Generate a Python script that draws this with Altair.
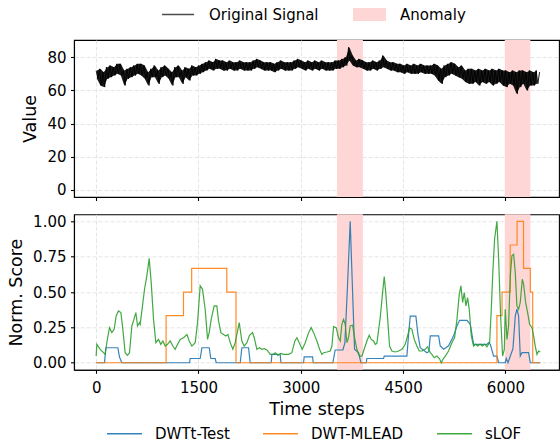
import altair as alt
import pandas as pd

FONT = "DejaVu Sans"

# ---- Original signal: upper envelope at t = 0,50,...,6500 and lower envelope at t = 25,75,...,6475
sig_upper = [72, 73, 71, 74, 75, 74, 76, 76, 72, 73, 74, 75, 76, 76, 75, 71, 73, 75, 72, 74,
             75, 73, 71, 74, 75, 72, 74, 73, 75, 74, 75, 76, 77, 78, 77, 79, 78, 78, 77, 78,
             77, 77, 78, 77, 77, 77, 78, 79, 78, 77, 77, 77, 76, 77, 78, 77, 77, 77, 78, 79,
             78, 77, 78, 77, 78, 77, 78, 77, 77, 77, 78, 78, 79, 80, 86, 81, 78, 79, 78, 77,
             77, 78, 77, 78, 81, 78, 77, 77, 76, 76, 75, 76, 75, 76, 75, 76, 75, 75, 75, 76,
             75, 73, 75, 76, 77, 76, 74, 75, 72, 73, 73, 72, 73, 72, 73, 72, 73, 72, 73, 72,
             72, 71, 72, 71, 72, 72, 71, 72, 71, 72, 71]
sig_lower = [67, 63, 62, 67, 68, 69, 70, 69, 63, 67, 68, 69, 70, 69, 67, 63, 68, 68, 64, 68,
             69, 67, 63, 68, 68, 64, 68, 66, 69, 69, 70, 71, 72, 73, 72, 73, 73, 72, 72, 73,
             72, 72, 73, 72, 72, 72, 73, 74, 73, 72, 72, 72, 71, 72, 73, 72, 72, 72, 73, 74,
             73, 72, 73, 72, 73, 72, 73, 72, 72, 72, 73, 73, 74, 75, 78, 75, 74, 74, 73, 72,
             72, 73, 72, 73, 74, 73, 72, 72, 71, 71, 70, 71, 70, 70, 70, 71, 70, 70, 70, 69,
             66, 64, 68, 69, 70, 69, 68, 67, 65, 64, 64, 65, 63, 65, 64, 65, 63, 64, 65, 63,
             62, 64, 63, 58, 62, 64, 60, 63, 63, 64]

# ---- Anomaly windows
anom_start = [3530, 5990]
anom_end = [3910, 6365]

# ---- DWTt-Test
blue_t = [0, 122, 142, 318, 342, 376, 1369, 1378, 1525, 1550, 1657, 1681, 1745, 1760, 2112, 2136,
          2234, 2258, 2566, 2576, 2698, 2708, 3040, 3050, 3172, 3182, 3470, 3504, 3617, 3646,
          3685, 3724, 3759, 3788, 3847, 3881, 3959, 3969, 4213, 4223, 4555, 4580, 4604, 4687,
          4717, 4751, 4849, 4878, 4898, 5020, 5044, 5093, 5166, 5240, 5289, 5328, 5435, 5484,
          5509, 5533, 5680, 5729, 5753, 5778, 5826, 5875, 5900, 5997, 6012, 6037, 6110, 6144,
          6168, 6193, 6217, 6242, 6339, 6364, 6510]
blue_s = [0, 0, 0.106, 0.106, 0.04, 0, 0, 0.03, 0.03, 0.106, 0.106, 0.03, 0.03, 0, 0, 0.106,
          0.106, 0, 0, 0.059, 0.059, 0, 0, 0.042, 0.042, 0, 0, 0.09, 0.09, 0.14,
          0.55, 1.0, 0.5, 0.095, 0.07, 0, 0, 0.03, 0.03, 0.047, 0.047, 0.2, 0.33, 0.33,
          0.2, 0.106, 0.071, 0.08, 0.19, 0.19, 0.118, 0.095, 0.12, 0.19, 0.26, 0.3, 0.3, 0.272,
          0.2, 0.13, 0.13, 0.13, 0.142, 0.13, 0.047, 0.047, 0, 0, 0.03, 0, 0.1, 0.33,
          0.38, 0.33, 0.047, 0.071, 0.071, 0, 0]

# ---- DWT-MLEAD (step function)
orange_t = [0, 1025, 1280, 1400, 1915, 2050, 5875, 5950, 6070, 6170, 6265, 6365, 6400, 6510]
orange_s = [0, 0.333, 0.5, 0.667, 0.5, 0, 0.333, 0.5, 0.833, 1.0, 0.667, 0.5, 0, 0]

# ---- sLOF
green_t = [0, 10, 59, 108, 132, 156, 195, 230, 264, 293, 327, 362, 391, 425, 459, 489, 523, 547,
           582, 606, 635, 645, 679, 709, 743, 777, 807, 841, 875, 914, 948, 978, 1012, 1046,
           1085, 1124, 1158, 1193, 1232, 1281, 1330, 1364, 1403, 1452, 1486, 1525, 1559, 1598,
           1633, 1657, 1686, 1730, 1769, 1794, 1828, 1867, 1901, 1931, 1965, 2004, 2038, 2063,
           2097, 2136, 2170, 2209, 2248, 2292, 2317, 2356, 2395, 2429, 2464, 2503, 2552, 2591,
           2625, 2664, 2708, 2747, 2781, 2820, 2869, 2913, 2943, 2977, 3021, 3065, 3114, 3153,
           3187, 3236, 3275, 3309, 3334, 3383, 3431, 3456, 3480, 3519, 3553, 3578, 3602, 3627,
           3651, 3676, 3700, 3724, 3759, 3788, 3822, 3847, 3871, 3896, 3920, 3969, 4003, 4032,
           4067, 4091, 4115, 4164, 4199, 4223, 4247, 4277, 4301, 4335, 4384, 4433, 4482, 4531,
           4565, 4594, 4629, 4663, 4702, 4736, 4775, 4824, 4858, 4898, 4922, 4956, 4995, 5034,
           5059, 5083, 5118, 5166, 5215, 5254, 5289, 5323, 5347, 5372, 5396, 5421, 5445, 5469,
           5499, 5533, 5562, 5592, 5631, 5660, 5694, 5729, 5768, 5792, 5817, 5841, 5875, 5900,
           5929, 5958, 5983, 5997, 6022, 6046, 6071, 6095, 6120, 6144, 6168, 6193, 6217, 6247,
           6266, 6296, 6325, 6354, 6389, 6413, 6437, 6462, 6486, 6510]
green_s = [0.047, 0.13, 0.095, 0.071, 0.059, 0.142, 0.248, 0.213, 0.236, 0.331, 0.366, 0.355,
           0.236, 0.071, 0.052, 0.071, 0.26, 0.296, 0.355, 0.26, 0.284, 0.272, 0.402, 0.52,
           0.615, 0.738, 0.567, 0.307, 0.142, 0.165, 0.13, 0.154, 0.118, 0.13, 0.154, 0.118,
           0.095, 0.13, 0.165, 0.177, 0.2, 0.154, 0.118, 0.142, 0.284, 0.544, 0.52, 0.378,
           0.165, 0.213, 0.307, 0.402, 0.402, 0.296, 0.213, 0.2, 0.189, 0.2, 0.142, 0.095,
           0.142, 0.2, 0.284, 0.154, 0.118, 0.142, 0.194, 0.213, 0.177, 0.095, 0.106, 0.095,
           0.099, 0.09, 0.059, 0.059, 0.071, 0.052, 0.066, 0.059, 0.059, 0.059, 0.071, 0.154,
           0.177, 0.142, 0.095, 0.142, 0.213, 0.248, 0.213, 0.154, 0.095, 0.059, 0.071, 0.076,
           0.083, 0.118, 0.255, 0.248, 0.177, 0.154, 0.272, 0.307, 0.272, 0.142, 0.177, 0.26,
           0.265, 0.177, 0.095, 0.059, 0.047, 0.047, 0.083, 0.154, 0.194, 0.165, 0.154, 0.13,
           0.137, 0.319, 0.496, 0.61, 0.485, 0.284, 0.118, 0.083, 0.076, 0.083, 0.095, 0.13,
           0.189, 0.248, 0.236, 0.165, 0.118, 0.083, 0.083, 0.095, 0.113, 0.071, 0.059, 0.035,
           0.047, 0.028, 0.0, 0.024, 0.047, 0.083, 0.142, 0.177, 0.307, 0.485, 0.544, 0.426,
           0.496, 0.402, 0.461, 0.378, 0.189, 0.118, 0.13, 0.118, 0.13, 0.118, 0.13, 0.113,
           0.142, 0.378, 0.662, 0.875, 1.0, 0.733, 0.331, 0.047, 0.095, 0.378, 0.165, 0.26,
           0.615, 0.757, 0.768, 0.638, 0.402, 0.378, 0.426, 0.591, 0.556, 0.426, 0.355, 0.272,
           0.248, 0.189, 0.118, 0.059, 0.083, 0.076]

x_ticks = [0, 1500, 3000, 4500, 6000]
top_y_ticks = [0, 20, 40, 60, 80]
bot_y_ticks = [0, 0.25, 0.5, 0.75, 1.0]
methods = ["DWTt-Test", "DWT-MLEAD", "sLOF"]
method_colors = ["#1f77b4", "#ff7f0e", "#2ca02c"]

# ---- build tables
sig_t, sig_v = [], []
for i, u in enumerate(sig_upper):
    sig_t.append(50 * i)
    sig_v.append(u)
    if i < len(sig_lower):
        sig_t.append(50 * i + 25)
        sig_v.append(sig_lower[i])
sig_df = pd.DataFrame({"t": sig_t, "v": sig_v, "name": "Original Signal"})
band_df = pd.DataFrame({"t": [50 * i + 12 for i in range(len(sig_lower))],
                        "hi": sig_upper[:len(sig_lower)], "lo": sig_lower})
anom_df = pd.DataFrame({"s": anom_start, "e": anom_end, "label": "Anomaly"})
blue_df = pd.DataFrame({"t": blue_t, "s": blue_s, "m": "DWTt-Test"})
orange_df = pd.DataFrame({"t": orange_t, "s": orange_s, "m": "DWT-MLEAD"})
green_df = pd.DataFrame({"t": green_t, "s": green_s, "m": "sLOF"})

W = 485
H_TOP = 157
H_BOT = 155.5
xscale = alt.Scale(domain=[-325, 6785], nice=False, zero=False)
ytop_scale = alt.Scale(domain=[-4.3, 90.4], nice=False, zero=False)

def xaxis(labels, title):
    kw = dict(values=x_ticks, labels=labels, grid=True, tickSize=3.5, labelPadding=7,
              labelFontSize=15, titleFontSize=17.5, titlePadding=5, format="d")
    if title:
        return alt.Axis(title=title, **kw)
    return alt.Axis(title=None, **kw)

ytop_axis = alt.Axis(title="Value", values=top_y_ticks, grid=True, tickSize=3.5,
                     labelPadding=4.5, labelFontSize=15, titleFontSize=17.5, titlePadding=7)

# ---- top panel
top_rect = alt.Chart(anom_df).mark_rect(opacity=1).encode(
    x=alt.X("s:Q", scale=xscale, axis=xaxis(False, None)),
    x2="e:Q",
    fill=alt.Fill("label:N", scale=alt.Scale(domain=["Anomaly"], range=["#ffd6d6"]),
                  legend=alt.Legend(title=None, orient="none", legendX=279, legendY=-33.5,
                                    symbolType="M-1,-0.39H1V0.39H-1Z", symbolSize=1089,
                                    clipHeight=16,
                                    symbolStrokeWidth=0, symbolOpacity=1, labelOffset=14,
                                    labelFontSize=15, labelFont=FONT, labelColor="black")),
)
top_band = alt.Chart(band_df).mark_area(color="black", opacity=0.9).encode(
    x=alt.X("t:Q", scale=xscale, axis=xaxis(False, None)),
    y=alt.Y("lo:Q", scale=ytop_scale, axis=ytop_axis),
    y2="hi:Q",
)
top_line = alt.Chart(sig_df).mark_line(strokeWidth=0.9).encode(
    x=alt.X("t:Q", scale=xscale, axis=xaxis(False, None)),
    y=alt.Y("v:Q", scale=ytop_scale, axis=ytop_axis),
    color=alt.Color("name:N", scale=alt.Scale(domain=["Original Signal"], range=["black"]),
                    legend=alt.Legend(title=None, orient="none", legendX=87, legendY=-33.5,
                                      symbolType="stroke", symbolSize=1024, symbolStrokeWidth=1.5,
                                      clipHeight=16,
                                      symbolOpacity=0.7, labelOffset=14, labelFontSize=15,
                                      labelFont=FONT, labelColor="black")),
    order="t:Q",
)
top = alt.layer(top_rect, top_band, top_line).properties(width=W, height=H_TOP)

# ---- bottom panel
ybot = alt.Y("s:Q", scale=alt.Scale(domain=[-0.05, 1.05], nice=False, zero=False),
             axis=alt.Axis(title="Norm. Score", values=bot_y_ticks, format=".2f", grid=True,
                           tickSize=3.5, labelPadding=4.5, labelFontSize=15, titleFontSize=17.5,
                           titlePadding=7))
mcolor = alt.Color("m:N", scale=alt.Scale(domain=methods, range=method_colors),
                   legend=alt.Legend(title=None, orient="none", direction="horizontal",
                                     legendX=32, legendY=211.5, symbolType="stroke",
                                     symbolSize=1225, symbolStrokeWidth=1.5, labelOffset=12,
                                     clipHeight=16,
                                     columnPadding=32, labelFontSize=15, labelFont=FONT,
                                     labelColor="black"))
xbot = alt.X("t:Q", scale=xscale, axis=xaxis(True, "Time steps"))

bot_rect = alt.Chart(anom_df).mark_rect(color="#ffd6d6", opacity=1).encode(
    x=alt.X("s:Q", scale=xscale, axis=xaxis(True, "Time steps")), x2="e:Q")
bot_blue = alt.Chart(blue_df).mark_line(strokeWidth=1.2, opacity=0.9).encode(
    x=xbot, y=ybot, color=mcolor, order="t:Q")
bot_orange = alt.Chart(orange_df).mark_line(strokeWidth=1.2, opacity=0.9,
                                            interpolate="step-after").encode(
    x=xbot, y=ybot, color=mcolor, order="t:Q")
bot_green = alt.Chart(green_df).mark_line(strokeWidth=1.2, opacity=0.9).encode(
    x=xbot, y=ybot, color=mcolor, order="t:Q")
bottom = alt.layer(bot_rect, bot_blue, bot_orange, bot_green).properties(width=W, height=H_BOT)

chart = alt.vconcat(top, bottom, spacing=11.3).resolve_scale(
    color="independent", fill="independent"
).resolve_legend(color="independent", fill="independent").properties(
    padding={"left": 7, "top": 5, "right": 0, "bottom": 0},
).configure_view(stroke="black", strokeWidth=1.1).configure_axis(
    labelFont=FONT, titleFont=FONT, labelColor="black", titleColor="black",
    titleFontWeight="normal", tickColor="black", domainColor="black", domainWidth=1.1,
    tickWidth=1.1, gridColor="#dedede", gridDash=[4, 2], gridWidth=0.8,
).configure_legend(labelFont=FONT)

chart.save("out.html", embed_options={"renderer": "svg", "actions": False})
